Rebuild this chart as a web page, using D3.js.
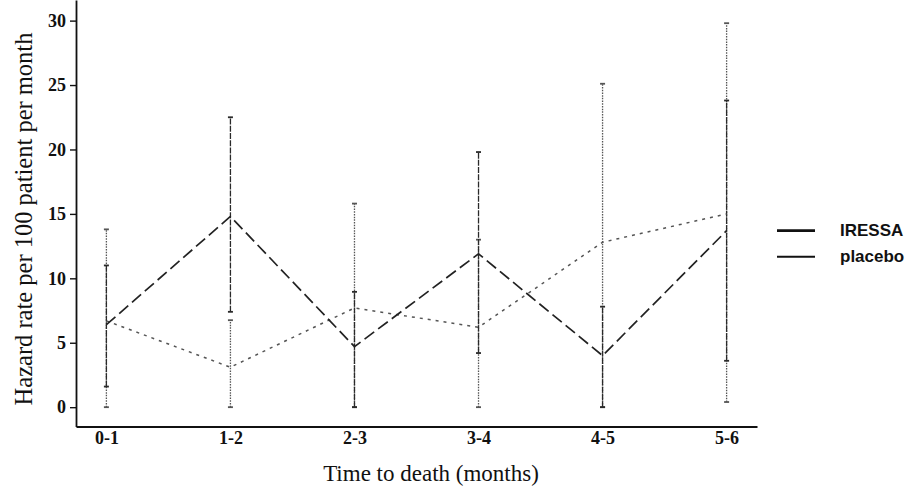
<!DOCTYPE html>
<html>
<head>
<meta charset="utf-8">
<script src="https://cdn.jsdelivr.net/npm/d3@7"></script>
<style>
  html, body { margin: 0; padding: 0; background: #fff; }
  svg { display: block; }
</style>
</head>
<body>
<svg id="chart" width="914" height="490"></svg>
<script>
// Monthly hazard rate (per 100 patients per month) with 95% confidence limits
const categories   = ["0-1", "1-2", "2-3", "3-4", "4-5", "5-6"];
const iressa       = [6.4, 14.8, 4.7, 11.9, 4.0, 13.7];
const iressaLow    = [1.6, 7.4, 0.0, 4.2, 0.0, 3.6];
const iressaHigh   = [11.0, 22.5, 8.95, 19.8, 7.8, 23.8];
const placebo      = [6.7, 3.1, 7.7, 6.2, 12.8, 15.0];
const placeboLow   = [0.0, 0.0, 0.0, 0.0, 0.0, 0.4];
const placeboHigh  = [13.8, 6.75, 15.8, 13.0, 25.1, 29.8];
const yTicks       = [0, 5, 10, 15, 20, 25, 30];
const seriesNames  = ["IRESSA", "placebo"];

const svg = d3.select("#chart");

const x = d3.scalePoint().domain(categories).range([76, 757]).padding(0.245);
const y = d3.scaleLinear().domain([-1.5, 31.6]).range([426.5, 0]);

// Axes
const yAxis = svg.append("g")
  .attr("transform", "translate(76,0)")
  .call(d3.axisLeft(y).tickValues(yTicks).tickSizeInner(6).tickSizeOuter(0).tickPadding(4));
yAxis.selectAll("text")
  .attr("font-family", "'Liberation Serif', serif")
  .attr("font-weight", "bold")
  .attr("font-size", 18)
  .attr("fill", "#111");

const xAxis = svg.append("g")
  .attr("transform", "translate(0,426.5)")
  .call(d3.axisBottom(x).tickSizeInner(0).tickSizeOuter(0).tickPadding(5));
xAxis.selectAll("text")
  .attr("font-family", "'Liberation Serif', serif")
  .attr("font-weight", "bold")
  .attr("font-size", 18)
  .attr("fill", "#111");

svg.selectAll(".domain").attr("stroke", "#111").attr("stroke-width", 1.8);
svg.selectAll(".tick line").attr("stroke", "#111").attr("stroke-width", 1.4);

// Axis titles
svg.append("text")
  .attr("transform", "translate(32,219) rotate(-90)")
  .attr("text-anchor", "middle")
  .attr("font-family", "'Liberation Serif', serif")
  .attr("font-size", 24.5)
  .attr("fill", "#111")
  .text("Hazard rate per 100 patient per month");

svg.append("text")
  .attr("x", 431)
  .attr("y", 481)
  .attr("text-anchor", "middle")
  .attr("font-family", "'Liberation Serif', serif")
  .attr("font-size", 23)
  .attr("fill", "#111")
  .text("Time to death (months)");

// Confidence intervals
function drawCI(low, high, color, width, dash) {
  const g = svg.append("g");
  categories.forEach((c, i) => {
    const cx = x(c);
    g.append("line")
      .attr("x1", cx).attr("x2", cx)
      .attr("y1", y(low[i])).attr("y2", y(high[i]))
      .attr("stroke", color).attr("stroke-width", width)
      .attr("stroke-dasharray", dash);
    [low[i], high[i]].forEach(v => {
      g.append("line")
        .attr("x1", cx - 2.5).attr("x2", cx + 2.5)
        .attr("y1", y(v)).attr("y2", y(v))
        .attr("stroke", color).attr("stroke-width", 1.8);
    });
  });
}
drawCI(placeboLow, placeboHigh, "#555", 1.3, "1.5,1.2");
drawCI(iressaLow, iressaHigh, "#2a2a2a", 1.3, "6,1.2");

// Series lines
const line = d3.line().x((d, i) => x(categories[i])).y(d => y(d));

svg.append("path")
  .datum(placebo)
  .attr("d", line)
  .attr("fill", "none")
  .attr("stroke", "#555")
  .attr("stroke-width", 1.5)
  .attr("stroke-dasharray", "3,5");

svg.append("path")
  .datum(iressa)
  .attr("d", line)
  .attr("fill", "none")
  .attr("stroke", "#222")
  .attr("stroke-width", 1.7)
  .attr("stroke-dasharray", "12,5");

// Legend
const legend = svg.append("g");
const legendRows = [
  { name: seriesNames[0], ly: 230.7, ty: 236, w: 2.8 },
  { name: seriesNames[1], ly: 256.7, ty: 262, w: 2 }
];
legendRows.forEach(r => {
  legend.append("line")
    .attr("x1", 777).attr("x2", 815)
    .attr("y1", r.ly).attr("y2", r.ly)
    .attr("stroke", "#111").attr("stroke-width", r.w);
  legend.append("text")
    .attr("x", 840).attr("y", r.ty)
    .attr("font-family", "'Liberation Sans', Arial, sans-serif")
    .attr("font-weight", "bold")
    .attr("font-size", 17)
    .attr("fill", "#111")
    .text(r.name);
});
</script>
</body>
</html>
